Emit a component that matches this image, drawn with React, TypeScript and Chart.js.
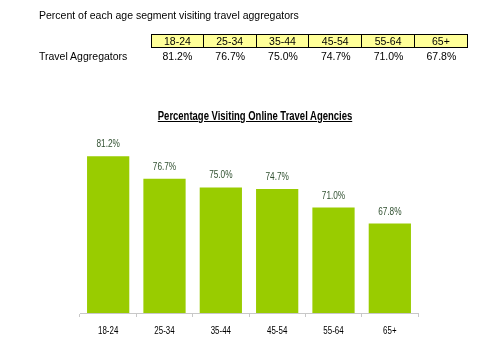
import React, { useEffect, useRef } from "react";
import { Chart, registerables } from "chart.js";

Chart.register(...registerables);

const categories = ["18-24", "25-34", "35-44", "45-54", "55-64", "65+"];
const values = [81.2, 76.7, 75.0, 74.7, 71.0, 67.8];
const tableTitle = "Percent of each age segment visiting travel aggregators";
const rowLabel = "Travel Aggregators";
const chartTitle = "Percentage Visiting Online Travel Agencies";

const SANS = "'Liberation Sans', Arial, sans-serif";

function drawNarrow(ctx: CanvasRenderingContext2D, text: string, x: number, y: number, sx: number) {
  ctx.save();
  ctx.translate(x, y);
  ctx.scale(sx, 1);
  ctx.fillText(text, 0, 0);
  ctx.restore();
}

const labelPlugin = {
  id: "barLabels",
  afterDatasetsDraw(chart: any) {
    const ctx = chart.ctx;
    const meta = chart.getDatasetMeta(0);
    const xScale = chart.scales.x;
    ctx.save();
    ctx.font = `11px ${SANS}`;
    ctx.textAlign = "center";
    ctx.textBaseline = "middle";
    ctx.fillStyle = "#2f4f2f";
    meta.data.forEach((bar: any, i: number) => {
      drawNarrow(ctx, values[i].toFixed(1) + "%", bar.x, bar.y - 12, 0.75);
    });
    ctx.fillStyle = "#000";
    categories.forEach((c, i) => {
      const x = xScale.getPixelForValue(i);
      drawNarrow(ctx, c, x, xScale.bottom + 14, 0.72);
    });
    ctx.restore();
  },
};

export default function App() {
  const ref = useRef<HTMLCanvasElement | null>(null);

  useEffect(() => {
    if (!ref.current) return;
    const chart = new Chart(ref.current, {
      type: "bar",
      data: {
        labels: categories,
        datasets: [
          {
            data: values,
            backgroundColor: "#99cc00",
            borderWidth: 0,
            categoryPercentage: 0.75,
            barPercentage: 1,
          },
        ],
      },
      options: {
        animation: false,
        responsive: false,
        maintainAspectRatio: false,
        layout: { padding: { left: 80, right: 63, top: 112, bottom: 45 } },
        plugins: {
          legend: { display: false },
          tooltip: { enabled: false },
          title: { display: false },
        },
        scales: {
          x: {
            grid: {
              display: true,
              drawOnChartArea: false,
              offset: true,
              tickLength: 4,
              color: "#c8c8c8",
            },
            border: { display: true, color: "#c8c8c8" },
            ticks: { display: false },
          },
          y: {
            display: false,
            min: 50,
            max: 90,
          },
        },
      },
      plugins: [labelPlugin],
    });
    return () => chart.destroy();
  }, []);

  const cellW = 52.8;
  const fs = "10.5px";
  return (
    <div style={{ position: "absolute", left: 0, top: 0, width: 481, height: 362, background: "#fff", overflow: "hidden" }}>
      <canvas ref={ref} width={481} height={362} style={{ position: "absolute", left: 0, top: 0 }} />
      <div style={{ position: "absolute", left: 39, top: 9, font: `${fs} ${SANS}`, color: "#000", whiteSpace: "nowrap" }}>
        {tableTitle}
      </div>
      <div style={{ position: "absolute", left: 39, top: 50, font: `${fs} ${SANS}`, color: "#000", whiteSpace: "nowrap" }}>
        {rowLabel}
      </div>
      {categories.map((c, i) => (
        <div
          key={c}
          style={{
            position: "absolute",
            left: 151 + i * cellW,
            top: 34,
            width: cellW,
            height: 14,
            boxSizing: "border-box",
            background: "#ffff99",
            border: "1px solid #000",
            borderLeftWidth: i === 0 ? 1 : 0,
            font: `${fs} ${SANS}`,
            lineHeight: "12px",
            textAlign: "center",
            color: "#000",
          }}
        >
          {c}
        </div>
      ))}
      {values.map((v, i) => (
        <div
          key={i}
          style={{
            position: "absolute",
            left: 151 + i * cellW,
            top: 50,
            width: cellW,
            font: `${fs} ${SANS}`,
            textAlign: "center",
            color: "#000",
          }}
        >
          {v.toFixed(1) + "%"}
        </div>
      ))}
      <div
        style={{
          position: "absolute",
          left: 80,
          width: 350,
          top: 109,
          textAlign: "center",
          font: `bold 12px ${SANS}`,
          textDecoration: "underline",
          color: "#000",
          whiteSpace: "nowrap",
          transform: "scaleX(0.79)",
          transformOrigin: "50% 50%",
        }}
      >
        {chartTitle}
      </div>
    </div>
  );
}
